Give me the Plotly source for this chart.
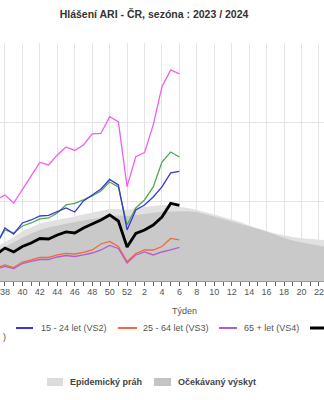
import plotly.graph_objects as go

# Season weeks 37/2023 .. 23/2024
WEEKS = [37, 38, 39, 40, 41, 42, 43, 44, 45, 46, 47, 48, 49, 50, 51, 52,
         1, 2, 3, 4, 5, 6, 7, 8, 9, 10, 11, 12, 13, 14, 15, 16, 17, 18, 19,
         20, 21, 22, 23]

# Reported ARI incidence per 100 000 (weeks 37 .. 6)
VS0 = [2043, 2169, 1967, 2295, 2648, 2989, 2926, 3178, 3380, 3291, 3430,
       3707, 3720, 4144, 4018, 2378, 3135, 3236, 3934, 4900, 5321, 5220]
VS1 = [933, 1286, 1211, 1387, 1463, 1564, 1589, 1715, 1917, 1955, 2043,
       2144, 2270, 2497, 2371, 1412, 1841, 2043, 2371, 3001, 3253, 3127]
VS2 = [908, 1337, 1185, 1463, 1538, 1639, 1652, 1740, 1841, 1740, 2018,
       2169, 2320, 2560, 2421, 1286, 1791, 1917, 2118, 2371, 2724, 2762]
VS3 = [328, 404, 340, 479, 530, 593, 593, 656, 694, 681, 719,
       782, 933, 996, 870, 492, 694, 782, 782, 870, 1072, 1034]
VS4 = [303, 366, 315, 441, 492, 542, 542, 605, 643, 618, 656,
       706, 782, 895, 820, 454, 656, 731, 656, 731, 782, 845]
TOTAL = [668, 832, 731, 870, 958, 1072, 1059, 1160, 1236, 1211, 1337,
         1437, 1538, 1665, 1513, 857, 1198, 1286, 1412, 1614, 1955, 1904]

# Epidemic threshold and expected incidence for the whole season
THRESHOLD = [857, 984, 1110, 1261, 1362, 1450, 1501, 1538, 1589, 1627, 1677,
             1728, 1778, 1816, 1816, 1791, 1841, 1866, 1892, 1917, 1904, 1879,
             1841, 1791, 1740, 1677, 1614, 1551, 1488, 1400, 1324, 1261, 1198,
             1148, 1110, 1077, 1059, 1042, 1026]
EXPECTED = [757, 857, 971, 1097, 1198, 1286, 1349, 1400, 1450, 1488, 1526,
            1564, 1601, 1639, 1652, 1639, 1665, 1690, 1715, 1748, 1753, 1758,
            1758, 1740, 1690, 1627, 1564, 1501, 1438, 1374, 1324, 1248, 1160,
            1084, 1021, 971, 933, 890, 857]

Y_TICKS = [0, 2000, 4000, 6000]

pos = list(range(len(WEEKS)))
pos_cur = pos[:len(TOTAL)]

fig = go.Figure()
fig.add_trace(go.Scatter(x=pos, y=THRESHOLD, mode="lines", line=dict(width=0),
                         fill="tozeroy", fillcolor="#e1e1e1", name="Epidemický práh"))
fig.add_trace(go.Scatter(x=pos, y=EXPECTED, mode="lines", line=dict(width=0),
                         fill="tozeroy", fillcolor="#c9c9c9", name="Očekávaný výskyt"))

series = [
    ("0 - 5 let (VS0)", VS0, "#f25cf2", 1.3),
    ("6 - 14 let (VS1)", VS1, "#4fa84f", 1.3),
    ("15 - 24 let (VS2)", VS2, "#3838d8", 1.3),
    ("25 - 64 let (VS3)", VS3, "#f26a3a", 1.3),
    ("65 + let (VS4)", VS4, "#b45ccc", 1.3),
    ("Celkem", TOTAL, "#000000", 2.8),
]
for name, vals, col, w in series:
    fig.add_trace(go.Scatter(x=pos_cur, y=vals, mode="lines", name=name,
                             line=dict(color=col, width=w)))

# x axis labels every second week
tickvals = [p for p, wk in zip(pos, WEEKS) if wk % 2 == 0]
ticktext = [str(wk) for wk in WEEKS if wk % 2 == 0]

W, H = 324, 400
TOP, BOT = 43, 281


def py(yp):
    return (BOT - yp) / (BOT - TOP)


def px(xp):
    return xp / W


FONT = "Liberation Sans, Arial, sans-serif"

fig.update_layout(
    width=W, height=H,
    margin=dict(l=0, r=0, t=TOP, b=H - BOT),
    paper_bgcolor="white", plot_bgcolor="white",
    showlegend=False,
    font=dict(family=FONT, size=9, color="#555555"),
    title=dict(text="<b>Hlášení ARI - ČR, sezóna : 2023 / 2024</b>",
               x=154 / W, xref="container", xanchor="center",
               y=1 - 14 / H, yref="container", yanchor="middle",
               font=dict(family=FONT, size=10.5, color="#333333")),
    xaxis=dict(range=[0.43, 37.58], tickmode="array", tickvals=tickvals,
               ticktext=ticktext, showgrid=True, gridcolor="#e4e4e4", gridwidth=1,
               ticks="outside", ticklen=4, tickcolor="#666666",
               ticklabeloverflow="allow", ticklabelstandoff=-2,
               showline=True, linecolor="#999999", linewidth=1,
               zeroline=False, tickfont=dict(size=9, color="#555555"),
               minor=dict(tickmode="linear", tick0=0, dtick=1, ticks="outside",
                          ticklen=4, tickcolor="#666666", showgrid=False)),
    yaxis=dict(range=[0, 6000], tickvals=Y_TICKS, showticklabels=False,
               showgrid=True, gridcolor="#e4e4e4", gridwidth=1, zeroline=False),
)

ann = [
    dict(text="Týden", x=px(184), y=py(311)),
]
# legend: line series
row1 = py(328)
leg = [
    (16, 33, 39, "15 - 24 let (VS2)", "#3838d8", 2),
    (118, 137, 141, "25 - 64 let (VS3)", "#f26a3a", 2),
    (219, 237, 242, "65 + let (VS4)", "#b45ccc", 2),
]
shapes = []
for x0, x1, xt, txt, col, w in leg:
    shapes.append(dict(type="line", xref="paper", yref="paper", x0=px(x0), x1=px(x1),
                       y0=row1, y1=row1, line=dict(color=col, width=w)))
    ann.append(dict(text=txt, x=px(xt), y=row1, xanchor="left"))
shapes.append(dict(type="line", xref="paper", yref="paper", x0=px(310), x1=px(345),
                   y0=row1, y1=row1, line=dict(color="#000000", width=3)))
# tail of the wrapped legend entry on the second row
ann.append(dict(text=")", x=px(0.5), y=py(337), xanchor="left"))

# legend: areas
row2 = py(382)
for x0, x1, xt, txt, col in [(47, 63, 68, "Epidemický práh", "#dcdcdc"),
                             (154, 171, 176, "Očekávaný výskyt", "#c4c4c4")]:
    shapes.append(dict(type="rect", xref="paper", yref="paper", x0=px(x0), x1=px(x1),
                       y0=py(386), y1=py(378), fillcolor=col, line=dict(width=0)))
    ann.append(dict(text="<b>" + txt + "</b>", x=px(xt), y=row2, xanchor="left",
                    font=dict(family=FONT, size=9, color="#444444")))

for a in ann:
    a.setdefault("xanchor", "center")
    a.update(xref="paper", yref="paper", showarrow=False, yanchor="middle")
    a.setdefault("font", dict(family=FONT, size=9, color="#555555"))
fig.update_layout(annotations=ann, shapes=shapes)

fig.write_html("out.html")
